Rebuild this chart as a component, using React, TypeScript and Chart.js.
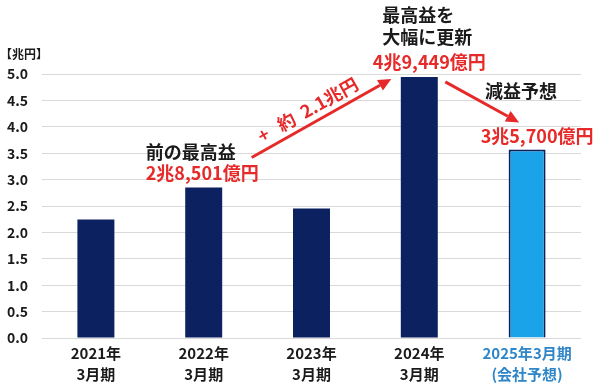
import React, { useEffect, useRef } from "react";
import { Chart, registerables } from "chart.js";

Chart.register(...registerables);

const categories: string[][] = [
  ["2021年", "3月期"],
  ["2022年", "3月期"],
  ["2023年", "3月期"],
  ["2024年", "3月期"],
  ["2025年3月期", "(会社予想)"],
];
const profits: number[] = [2.245, 2.8501, 2.451, 4.9449, 3.57];
const barColors: string[] = ["#0b2160", "#0b2160", "#0b2160", "#0b2160", "#1aa3e8"];
const yTicks: number[] = [0, 0.5, 1, 1.5, 2, 2.5, 3, 3.5, 4, 4.5, 5];
const unitLabel = "【兆円】";
const prevRecordTitle = "前の最高益";
const prevRecordValue = "2兆8,501億円";
const newRecordTitle: string[] = ["最高益を", "大幅に更新"];
const newRecordValue = "4兆9,449億円";
const increaseText = "+   約  2.1兆円";
const forecastTitle = "減益予想";
const forecastValue = "3兆5,700億円";

const FONT = '"Noto Sans CJK JP", "Noto Sans", sans-serif';
const RED = "#e62a2a";
const DARK = "#1a1a1a";
const BLUE_TXT = "#2e86c8";

function drawArrow(ctx: CanvasRenderingContext2D, x1: number, y1: number, x2: number, y2: number) {
  const ang = Math.atan2(y2 - y1, x2 - x1);
  const head = 13;
  const hw = 6;
  const bx = x2 - head * Math.cos(ang);
  const by = y2 - head * Math.sin(ang);
  ctx.save();
  ctx.strokeStyle = RED;
  ctx.fillStyle = RED;
  ctx.lineWidth = 3;
  ctx.beginPath();
  ctx.moveTo(x1, y1);
  ctx.lineTo(bx, by);
  ctx.stroke();
  ctx.beginPath();
  ctx.moveTo(x2, y2);
  ctx.lineTo(bx + hw * Math.sin(ang), by - hw * Math.cos(ang));
  ctx.lineTo(bx - hw * Math.sin(ang), by + hw * Math.cos(ang));
  ctx.closePath();
  ctx.fill();
  ctx.restore();
}

const annotPlugin = {
  id: "annot",
  afterDatasetsDraw(chart: any) {
    const ctx: CanvasRenderingContext2D = chart.ctx;
    const xs = chart.scales.x;
    const ys = chart.scales.y;
    const px = (i: number) => xs.getPixelForValue(i);
    const py = (i: number) => ys.getPixelForValue(profits[i]);
    ctx.save();
    ctx.textBaseline = "middle";
    ctx.font = `bold 12px ${FONT}`;
    ctx.fillStyle = DARK;
    ctx.textAlign = "left";
    ctx.fillText(unitLabel, 0, 54);

    ctx.font = `bold 18px ${FONT}`;
    // previous record
    ctx.textAlign = "left";
    ctx.fillStyle = DARK;
    ctx.fillText(prevRecordTitle, px(1) - 58, py(1) - 35);
    ctx.fillStyle = RED;
    ctx.fillText(prevRecordValue, px(1) - 58, py(1) - 14);

    // new record
    ctx.fillStyle = DARK;
    ctx.fillText(newRecordTitle[0], px(3) - 37, py(3) - 62);
    ctx.fillText(newRecordTitle[1], px(3) - 37, py(3) - 40);
    ctx.textAlign = "center";
    ctx.fillStyle = RED;
    ctx.fillText(newRecordValue, px(3) + 10, py(3) - 15);

    // forecast
    ctx.fillStyle = DARK;
    ctx.fillText(forecastTitle, px(4) - 6, py(4) - 58);
    ctx.fillStyle = RED;
    ctx.fillText(forecastValue, px(4) + 10, py(4) - 13);

    // arrows
    const a1x1 = px(1) + 48, a1y1 = py(1) - 30;
    const a1x2 = px(3) - 28, a1y2 = py(3) + 2;
    drawArrow(ctx, a1x1, a1y1, a1x2, a1y2);
    const a2x1 = px(3) + 26, a2y1 = py(3) + 5;
    const a2x2 = px(4) - 8, a2y2 = py(4) - 27;
    drawArrow(ctx, a2x1, a2y1, a2x2, a2y2);

    // rotated increase text
    const ang = Math.atan2(a1y2 - a1y1, a1x2 - a1x1);
    const mx = (a1x1 + a1x2) / 2;
    const my = (a1y1 + a1y2) / 2;
    ctx.save();
    ctx.translate(mx, my);
    ctx.rotate(ang);
    ctx.textAlign = "center";
    ctx.fillStyle = RED;
    ctx.fillText(increaseText, -8, -14);
    ctx.restore();
    ctx.restore();
  },
};

export default function App() {
  const ref = useRef<HTMLCanvasElement | null>(null);
  useEffect(() => {
    if (!ref.current) return;
    const chart = new Chart(ref.current, {
      type: "bar",
      data: {
        labels: categories,
        datasets: [
          {
            data: profits,
            backgroundColor: barColors,
            borderColor: "#0b2160",
            borderWidth: (c: any) => (c.dataIndex === 4 ? 2 : 0),
            barPercentage: 0.343,
            categoryPercentage: 1,
          } as any,
        ],
      },
      options: {
        responsive: false,
        animation: false,
        layout: { padding: { top: 74, right: 19, left: 0, bottom: 0 } },
        plugins: { legend: { display: false }, tooltip: { enabled: false } },
        scales: {
          x: {
            grid: { display: false, drawTicks: false },
            border: { display: false },
            ticks: {
              padding: 4,
              color: (c: any) => (c.index === 4 ? BLUE_TXT : DARK),
              font: { family: FONT, size: 15, weight: "bold", lineHeight: 1.45 },
              maxRotation: 0,
            },
            afterFit: (s: any) => {
              s.height = 47;
            },
          },
          y: {
            min: 0,
            max: 5,
            afterBuildTicks: (s: any) => {
              s.ticks = yTicks.map((v) => ({ value: v }));
            },
            grid: { color: "#d9d9d9", drawTicks: false, lineWidth: 1 },
            border: { display: false },
            ticks: {
              padding: 14,
              color: DARK,
              font: { family: FONT, size: 14, weight: "bold" },
              callback: (v: any) => Number(v).toFixed(1),
            },
            afterFit: (s: any) => {
              s.width = 42;
            },
          },
        },
      },
      plugins: [annotPlugin],
    } as any);
    return () => chart.destroy();
  }, []);
  return (
    <div style={{ position: "absolute", left: 0, top: 0, width: 600, height: 385, background: "#fff" }}>
      <canvas ref={ref} width={600} height={385} />
    </div>
  );
}
